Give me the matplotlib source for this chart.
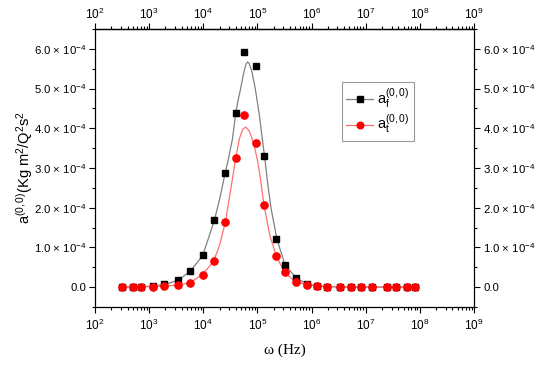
import numpy as np
import matplotlib
matplotlib.use("Agg")
import matplotlib.pyplot as plt
from matplotlib.ticker import FuncFormatter, MultipleLocator, LogLocator

plt.rcParams['font.family'] = ['Liberation Sans', 'DejaVu Sans']
plt.rcParams['mathtext.fontset'] = 'custom'
plt.rcParams['mathtext.rm'] = 'Liberation Sans'
plt.rcParams['mathtext.it'] = 'Liberation Sans:italic'

# frecuencias medidas (Hz)
freq = [316, 500, 700, 1170, 1900, 3400, 5700, 9800, 16000, 25300, 40000, 57000,
        93000, 135000, 224000, 320000, 510000, 830000, 1.27e6, 1.95e6, 3.3e6,
        5.4e6, 8.3e6, 1.3e7, 2.45e7, 3.6e7, 5.8e7, 8.1e7]
# valores en unidades de 1e-4
af = [0, 0, 0, 0.02, 0.07, 0.18, 0.41, 0.81, 1.69, 2.87, 4.39, 5.91, 5.56, 3.30,
      1.20, 0.56, 0.23, 0.08, 0.03, 0.01, 0, 0, 0, 0, 0, 0, 0, 0]
at = [0, 0, 0, 0.01, 0.02, 0.05, 0.11, 0.31, 0.65, 1.64, 3.25, 4.33, 3.64, 2.07,
      0.78, 0.38, 0.14, 0.06, 0.03, 0.01, 0, 0, 0, 0, 0, 0, 0, 0]

# curvas de ajuste (log10 de la frecuencia)
fit_f_logx = [2.5, 3.0, 3.3, 3.53, 3.76, 3.99, 4.2, 4.3, 4.4, 4.46, 4.54, 4.6, 4.65,
              4.69, 4.75, 4.79, 4.82, 4.85, 4.9, 4.96, 5.03, 5.09, 5.14, 5.2, 5.25,
              5.36, 5.51, 5.71, 5.91, 6.1, 6.5, 7.91]
fit_f = [0.0, 0.02, 0.07, 0.17, 0.40, 0.80, 1.66, 2.2, 2.85, 3.2, 3.74, 4.39, 4.75,
         5.0, 5.42, 5.62, 5.67, 5.62, 5.42, 5.0, 4.39, 3.74, 3.2, 2.5, 2.0,
         1.21, 0.56, 0.24, 0.08, 0.03, 0.0, 0.0]
fit_t_logx = [2.5, 3.0, 3.3, 3.53, 3.76, 3.98, 4.19, 4.3, 4.41, 4.5, 4.6, 4.67, 4.73,
              4.785, 4.85, 4.9, 4.95, 5.0, 5.06, 5.12, 5.23, 5.35, 5.5, 5.7, 5.91,
              6.1, 6.5, 7.91]
fit_t = [0.0, 0.01, 0.03, 0.05, 0.12, 0.31, 0.65, 1.05, 1.65, 2.4, 3.25, 3.75, 3.98,
         4.03, 3.93, 3.75, 3.5, 3.2, 2.7, 2.07, 1.3, 0.78, 0.37, 0.14, 0.06,
         0.03, 0.01, 0.0]

escala = 1e-4

fig = plt.figure(figsize=(5.5, 3.65), dpi=100)
ax = fig.add_axes([0.1727, 0.1589, 0.6891, 0.7616])

ax.plot(10 ** np.array(fit_f_logx), np.array(fit_f) * escala, color='#808080', lw=0.9)
ax.plot(10 ** np.array(fit_t_logx), np.array(fit_t) * escala, color='#ff7070', lw=0.9)
ax.plot(freq, np.array(af) * escala, ls='', marker='s', ms=4.6, color='black')
ax.plot(freq, np.array(at) * escala, ls='', marker='o', ms=5.2, color='red')

# entradas de la leyenda
hf, = ax.plot([], [], color='#808080', lw=0.9, marker='s', ms=4.2, mfc='black', mec='black')
ht, = ax.plot([], [], color='#ff7070', lw=0.9, marker='o', ms=4.8, mfc='red', mec='red')
leg = ax.legend([hf, ht], [r'a$_\mathregular{f}^\mathregular{(0,0)}$', r'a$_\mathregular{t}^\mathregular{(0,0)}$'],
                loc='upper left', bbox_to_anchor=(0.652, 0.81), fontsize=10.5,
                fancybox=False, edgecolor='#999999', framealpha=1,
                handlelength=1.8, handletextpad=0.3, borderpad=0.3, labelspacing=0.2,
                borderaxespad=0)
leg.get_frame().set_linewidth(0.8)

ax.set_xscale('log')
ax.set_xlim(1e2, 1e9)
ax.set_ylim(-0.5e-4, 6.5e-4)

def fmt_y(v, pos):
    if abs(v) < 1e-9:
        return '0.0'
    return '%.1f × 10$^{-4}$' % (v / escala)

ax.yaxis.set_major_locator(MultipleLocator(1e-4))
ax.yaxis.set_minor_locator(MultipleLocator(0.5e-4))
ax.yaxis.set_major_formatter(FuncFormatter(fmt_y))
ax.xaxis.set_major_locator(LogLocator(base=10, numticks=20))
ax.xaxis.set_minor_locator(LogLocator(base=10, subs=np.arange(2, 10), numticks=20))

ax.tick_params(which='both', direction='out', right=True,
               labelright=True, labelsize=8.5, width=0.8)
ax.tick_params(axis='y', labelsize=8.2, pad=2.5)
ax.tick_params(which='major', length=4)
ax.tick_params(which='minor', length=2.5)
for s in ax.spines.values():
    s.set_linewidth(0.9)

# eje superior con la misma escala
arriba = ax.secondary_xaxis('top')
arriba.xaxis.set_major_locator(LogLocator(base=10, numticks=20))
arriba.xaxis.set_minor_locator(LogLocator(base=10, subs=np.arange(2, 10), numticks=20))
arriba.tick_params(which='both', direction='out', labelsize=8.5, width=0.8, pad=1)
arriba.tick_params(which='major', length=4)
arriba.tick_params(which='minor', length=2.5)
arriba.spines['top'].set_linewidth(0.9)

ax.set_xlabel('ω (Hz)', family='Liberation Serif', fontsize=11, labelpad=8)
ax.set_ylabel(r'a$^{(0,0)}$(Kg m$^2$/Q$^2$s$^2$', fontsize=10.5, labelpad=-1)

fig.savefig('out.png', dpi=100)
